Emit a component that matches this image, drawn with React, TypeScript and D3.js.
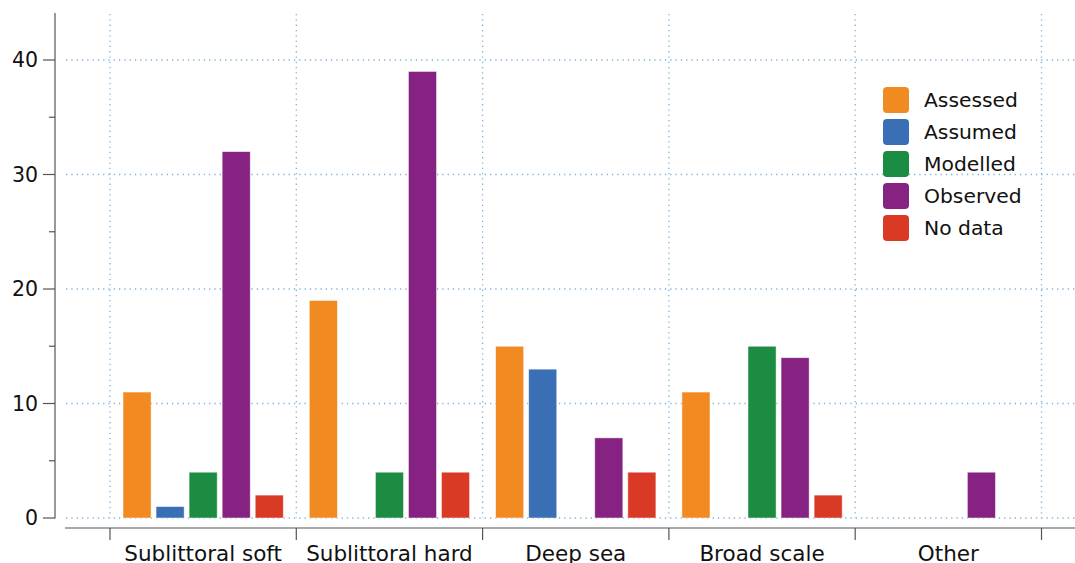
import * as d3 from "d3";
import React from "react";

const categories = ["Sublittoral soft", "Sublittoral hard", "Deep sea", "Broad scale", "Other"];
const seriesNames = ["Assessed", "Assumed", "Modelled", "Observed", "No data"];
const seriesColors = ["#f28a22", "#3a6fb5", "#1c8c43", "#862382", "#d93a25"];
// values per series, in category order
const assessed = [11, 19, 15, 11, 0];
const assumed = [1, 0, 13, 0, 0];
const modelled = [4, 4, 0, 15, 0];
const observed = [32, 39, 7, 14, 4];
const noData = [2, 4, 4, 2, 0];
const yTicks = [0, 10, 20, 30, 40];
const yMinorTicks = [5, 15, 25, 35];

const W = 1075;
const H = 563;
const font = "'DejaVu Sans', sans-serif";

export default function App() {
  const series = [assessed, assumed, modelled, observed, noData];

  const x = d3.scaleBand().domain(categories).range([110, 1041.5]);
  const xInner = d3
    .scaleBand()
    .domain(seriesNames)
    .range([13, x.bandwidth() - 13])
    .paddingInner(0.15);
  const y = d3.scaleLinear().domain([0, 44]).range([518, 14.2]);

  const boundaries = categories.map((c) => x(c) as number).concat([x.range()[1]]);
  const grid = "#7fb2dc";

  return (
    <svg
      width={W}
      height={H}
      style={{ position: "absolute", left: 0, top: 0, background: "#fff" }}
      fontFamily={font}
    >
      {/* horizontal grid */}
      {yTicks.map((t) => (
        <line
          key={"hg" + t}
          x1={66}
          x2={W}
          y1={y(t)}
          y2={y(t)}
          stroke={grid}
          strokeWidth={1.3}
          strokeDasharray="1.3 4"
        />
      ))}
      {/* vertical grid */}
      {boundaries.map((b, i) => (
        <line
          key={"vg" + i}
          x1={b}
          x2={b}
          y1={14}
          y2={518}
          stroke={grid}
          strokeWidth={1.3}
          strokeDasharray="1.3 4"
        />
      ))}

      {/* bars */}
      {series.map((vals, si) =>
        categories.map((c, ci) =>
          vals[ci] > 0 ? (
            <rect
              key={si + "-" + ci}
              x={(x(c) as number) + (xInner(seriesNames[si]) as number)}
              y={y(vals[ci])}
              width={xInner.bandwidth()}
              height={y(0) - y(vals[ci])}
              fill={seriesColors[si]}
              stroke="#ffffff"
              strokeOpacity={0.6}
              strokeWidth={0.8}
            />
          ) : null
        )
      )}

      {/* y axis */}
      <line x1={55} x2={55} y1={13} y2={518.5} stroke="#555" strokeWidth={1.2} />
      {yTicks.map((t) => (
        <g key={"yt" + t}>
          <line x1={43} x2={55} y1={y(t)} y2={y(t)} stroke="#555" strokeWidth={1.2} />
          <text x={38} y={y(t)} dy="0.36em" textAnchor="end" fontSize={20.5} fill="#111">
            {t}
          </text>
        </g>
      ))}
      {yMinorTicks.map((t) => (
        <line key={"ym" + t} x1={49} x2={55} y1={y(t)} y2={y(t)} stroke="#555" strokeWidth={1.2} />
      ))}

      {/* x axis */}
      <line x1={65} x2={W} y1={528} y2={528} stroke="#555" strokeWidth={1.2} />
      {boundaries.map((b, i) => (
        <line key={"xt" + i} x1={b} x2={b} y1={528} y2={540} stroke="#555" strokeWidth={1.2} />
      ))}
      {categories.map((c) => (
        <text
          key={"xl" + c}
          x={(x(c) as number) + x.bandwidth() / 2}
          y={560.5}
          textAnchor="middle"
          fontSize={21.5}
          fill="#111"
        >
          {c}
        </text>
      ))}

      {/* legend */}
      {seriesNames.map((s, i) => (
        <g key={"lg" + s} transform={`translate(883, ${87 + i * 32})`}>
          <rect width={26} height={26} rx={4} fill={seriesColors[i]} />
          <text x={41} y={13} dy="0.36em" fontSize={20.3} fill="#111">
            {s}
          </text>
        </g>
      ))}
    </svg>
  );
}
